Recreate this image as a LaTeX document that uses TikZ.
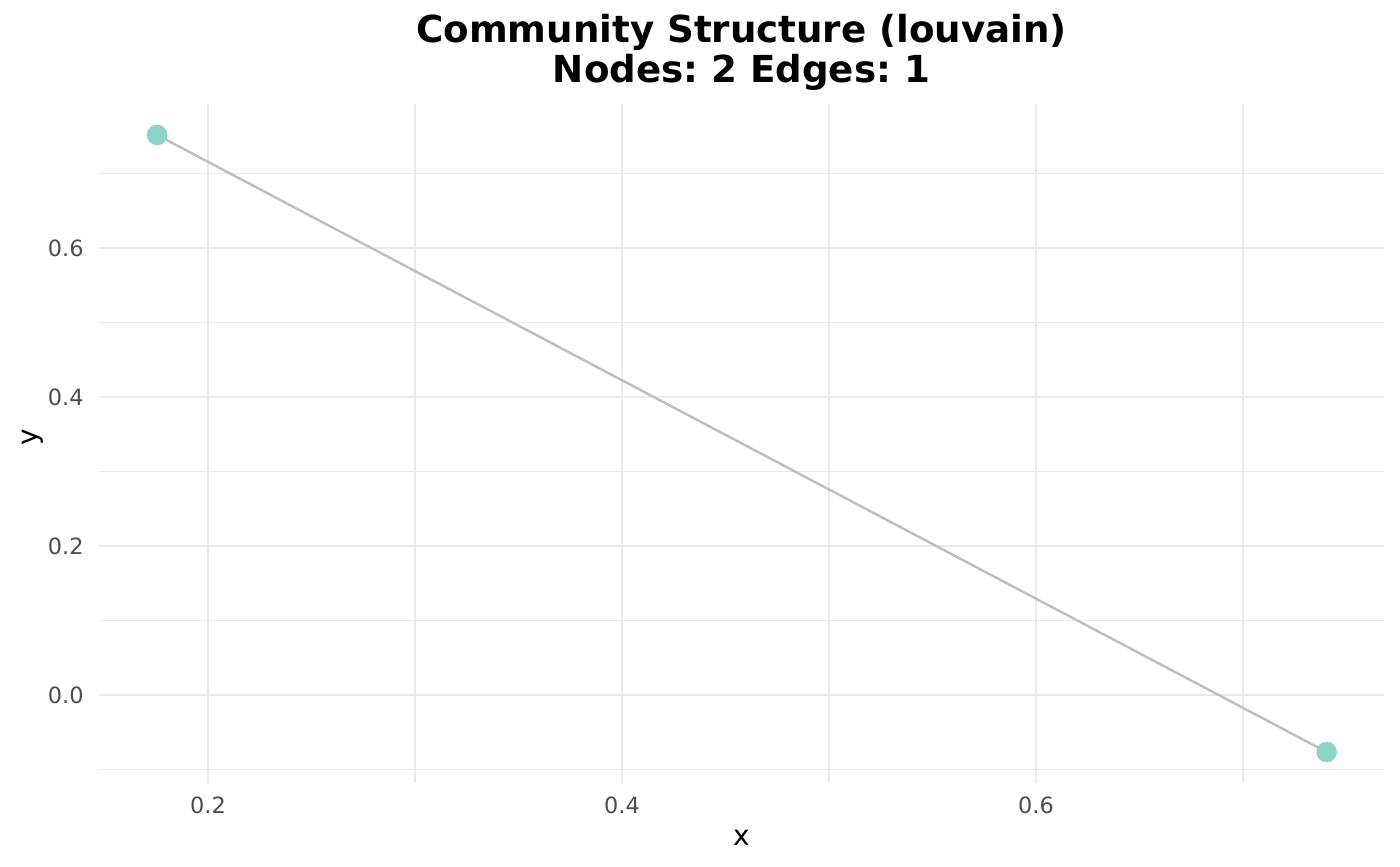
\documentclass[tikz,border=0pt]{standalone}
\usepackage{fontspec}
\setmainfont{DejaVu Sans}
\usetikzlibrary{positioning}
\frenchspacing
\definecolor{gridgray}{HTML}{EBEBEB}
\definecolor{ticktext}{HTML}{4D4D4D}
\definecolor{edgegray}{HTML}{BEBEBE}
\definecolor{commteal}{HTML}{8DD3C7}
\tikzset{
  gridmaj/.style={draw=gridgray, line width=1.3pt},
  gridmin/.style={draw=gridgray, line width=0.65pt},
  ticklab/.style={font=\fontsize{11.2}{13}\selectfont, text=ticktext, inner sep=0pt},
  axtitle/.style={font=\fontsize{14}{16}\selectfont, inner sep=0pt},
  titletext/.style={font=\bfseries\fontsize{18.6}{20}\selectfont, inner sep=0pt},
  vertex/.style={circle, fill=commteal, minimum size=10.3pt, inner sep=0pt},
  edgeline/.style={draw=edgegray, line width=1.2pt}
}

\begin{document}
\begin{tikzpicture}[x=0.5pt, y=0.5pt]
  \useasboundingbox (0,0) rectangle (1400,866);
  % panel in data units
  \begin{scope}[shift={(-103pt,85.5pt)}, x=1035pt, y=372.5pt]
    \foreach \v in {0.3,0.5,0.7}
      \draw[gridmin] (\v,-0.118) -- (\v,0.793);
    \foreach \v in {-0.1,0.1,0.3,0.5,0.7}
      \draw[gridmin] (0.1472,\v) -- (0.7682,\v);
    \foreach \v [count=\i] in {0.2,0.4,0.6}{
      \draw[gridmaj] (\v,-0.118) -- (\v,0.793);
      \node[ticklab] (xt\i) at (\v,-0.1477) {\v};
    }
    \foreach \v [count=\i] in {0.0,0.2,0.4,0.6}{
      \draw[gridmaj] (0.1472,\v) -- (0.7682,\v);
      \node[ticklab, anchor=east] (yt\i) at (0.1401,\v) {\v};
    }
    % the one edge
    \coordinate (p1) at (0.1754,0.7517);
    \coordinate (p2) at (0.7404,-0.0765);
    \draw[edgeline] (p1) -- (p2);
    \node[vertex] (n1) at (p1) {};
    \node[vertex] (n2) at (p2) {};
  \end{scope}
  \node[titletext, anchor=base] (title) at (741.5,823) {Community Structure (louvain)};
  \node[titletext, below=20pt of title.base, anchor=base] (subtitle) {Nodes: 2 Edges: 1};
  \node[axtitle] (xlab) at (741.5,28) {x};
  \node[axtitle, rotate=90] (ylab) at (33,429) {y};
\end{tikzpicture}
\end{document}
